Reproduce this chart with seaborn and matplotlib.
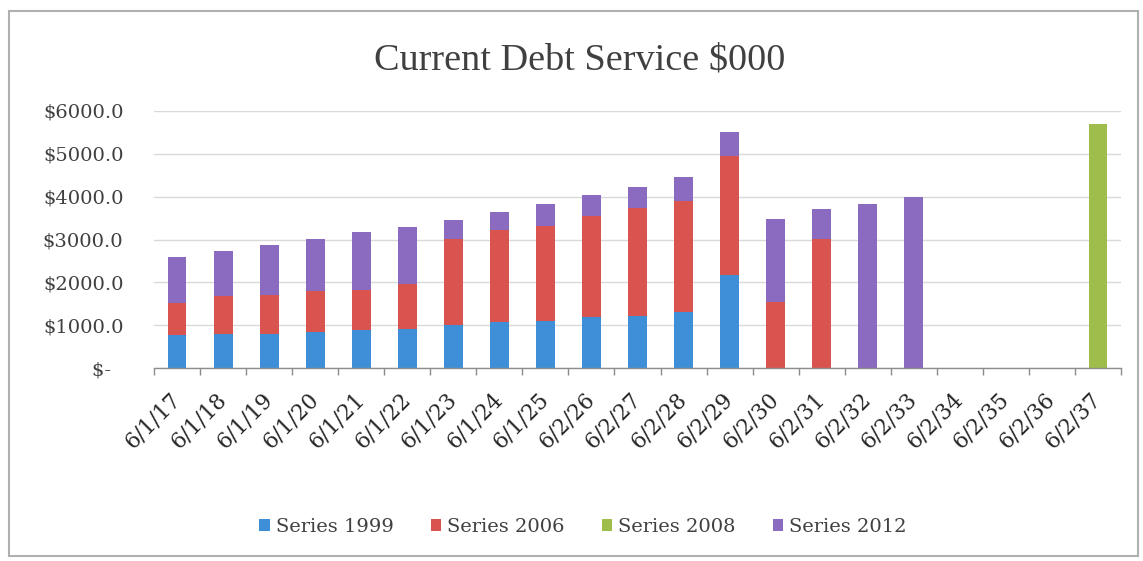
import matplotlib
matplotlib.use("Agg")
import matplotlib.pyplot as plt
from matplotlib.patches import Rectangle, Patch
import numpy as np
import pandas as pd
import seaborn as sns

# Payment dates and debt service ($000) by bond series
dates = ['6/1/17', '6/1/18', '6/1/19', '6/1/20', '6/1/21', '6/1/22', '6/1/23',
         '6/1/24', '6/1/25', '6/2/26', '6/2/27', '6/2/28', '6/2/29', '6/2/30',
         '6/2/31', '6/2/32', '6/2/33', '6/2/34', '6/2/35', '6/2/36', '6/2/37']
series_1999 = [770, 790, 800, 830, 880, 920, 1000, 1080, 1100, 1180, 1220, 1300,
               2170, 0, 0, 0, 0, 0, 0, 0, 0]
series_2006 = [740, 890, 910, 970, 940, 1040, 2010, 2140, 2220, 2370, 2520, 2600,
               2770, 1550, 3010, 0, 0, 0, 0, 0, 0]
series_2008 = [0, 0, 0, 0, 0, 0, 0, 0, 0, 0, 0, 0, 0, 0, 0, 0, 0, 0, 0, 0, 5690]
series_2012 = [1090, 1060, 1160, 1210, 1350, 1340, 450, 420, 510, 490, 490, 570,
               560, 1930, 700, 3830, 4000, 0, 0, 0, 0]
series_names = ['Series 1999', 'Series 2006', 'Series 2008', 'Series 2012']
y_ticks = [0, 1000, 2000, 3000, 4000, 5000, 6000]

colors = ['#3f8fd8', '#d9534f', '#9fbd4a', '#8a6bbf']

sns.set_theme(style="white")
plt.rcParams['font.family'] = ['DejaVu Serif']

df = pd.DataFrame({'date': dates, 'Series 1999': series_1999,
                   'Series 2006': series_2006, 'Series 2008': series_2008,
                   'Series 2012': series_2012})

fig = plt.figure(figsize=(11.43, 5.61), dpi=100)
ax = fig.add_axes([154 / 1143, 1 - 368 / 561, (1121 - 154) / 1143, (368 - 111) / 561])

# stacked bars, one seaborn call per series
bottom = np.zeros(len(dates))
for name, col in zip(series_names, colors):
    vals = df[name].to_numpy(dtype=float)
    sns.barplot(data=df, x='date', y=name, order=dates, color=col,
                width=0.41, bottom=bottom, ax=ax, saturation=1, linewidth=0)
    bottom = bottom + vals

ax.set_xlim(-0.5, len(dates) - 0.5)
ax.set_ylim(0, 6000)
ax.set_xlabel('')
ax.set_ylabel('')

# grid and axes styling
ax.set_yticks(y_ticks)
ax.set_yticklabels(['$-  ' if v == 0 else f'${v:.1f}' for v in y_ticks])
ax.yaxis.grid(True, color='#d9d9d9', linewidth=1.0)
ax.set_axisbelow(True)
for s in ['top', 'right', 'left']:
    ax.spines[s].set_visible(False)
ax.spines['bottom'].set_color('#8c8c8c')
ax.spines['bottom'].set_linewidth(1.0)

ax.tick_params(axis='y', length=0, pad=22, labelsize=14, labelcolor='#404040')
ax.tick_params(axis='x', which='major', length=0, pad=20, labelsize=15.5,
               labelcolor='#262626')
ax.set_xticks(np.arange(-0.5, len(dates), 1.0), minor=True)
ax.tick_params(axis='x', which='minor', length=5, width=1, color='#8c8c8c',
               direction='out', bottom=True)
for lab in ax.get_xticklabels():
    lab.set_rotation(45)
    lab.set_ha('right')
    lab.set_va('center')
    lab.set_rotation_mode('anchor')

# title
fig.text(0.507, 1 - 60 / 561, 'Current Debt Service $000', ha='center', va='center',
         fontsize=27.5, family='Liberation Serif', color='#404040')

# legend
handles = [Patch(facecolor=c, edgecolor='none') for c in colors]
fig.legend(handles, series_names, loc='center', bbox_to_anchor=(0.51, 1 - 527 / 561),
           ncol=4, frameon=False, fontsize=14, handlelength=0.55, handleheight=0.55,
           handletextpad=0.3, columnspacing=1.9, labelcolor='#404040')

# chart border
fig.patches.append(Rectangle((9 / 1143, 1 - 556 / 561), (1138 - 9) / 1143,
                             (556 - 11) / 561, transform=fig.transFigure,
                             fill=False, edgecolor='#b0b0b0', linewidth=1.5))

fig.savefig('out.png', dpi=100, facecolor='white')
